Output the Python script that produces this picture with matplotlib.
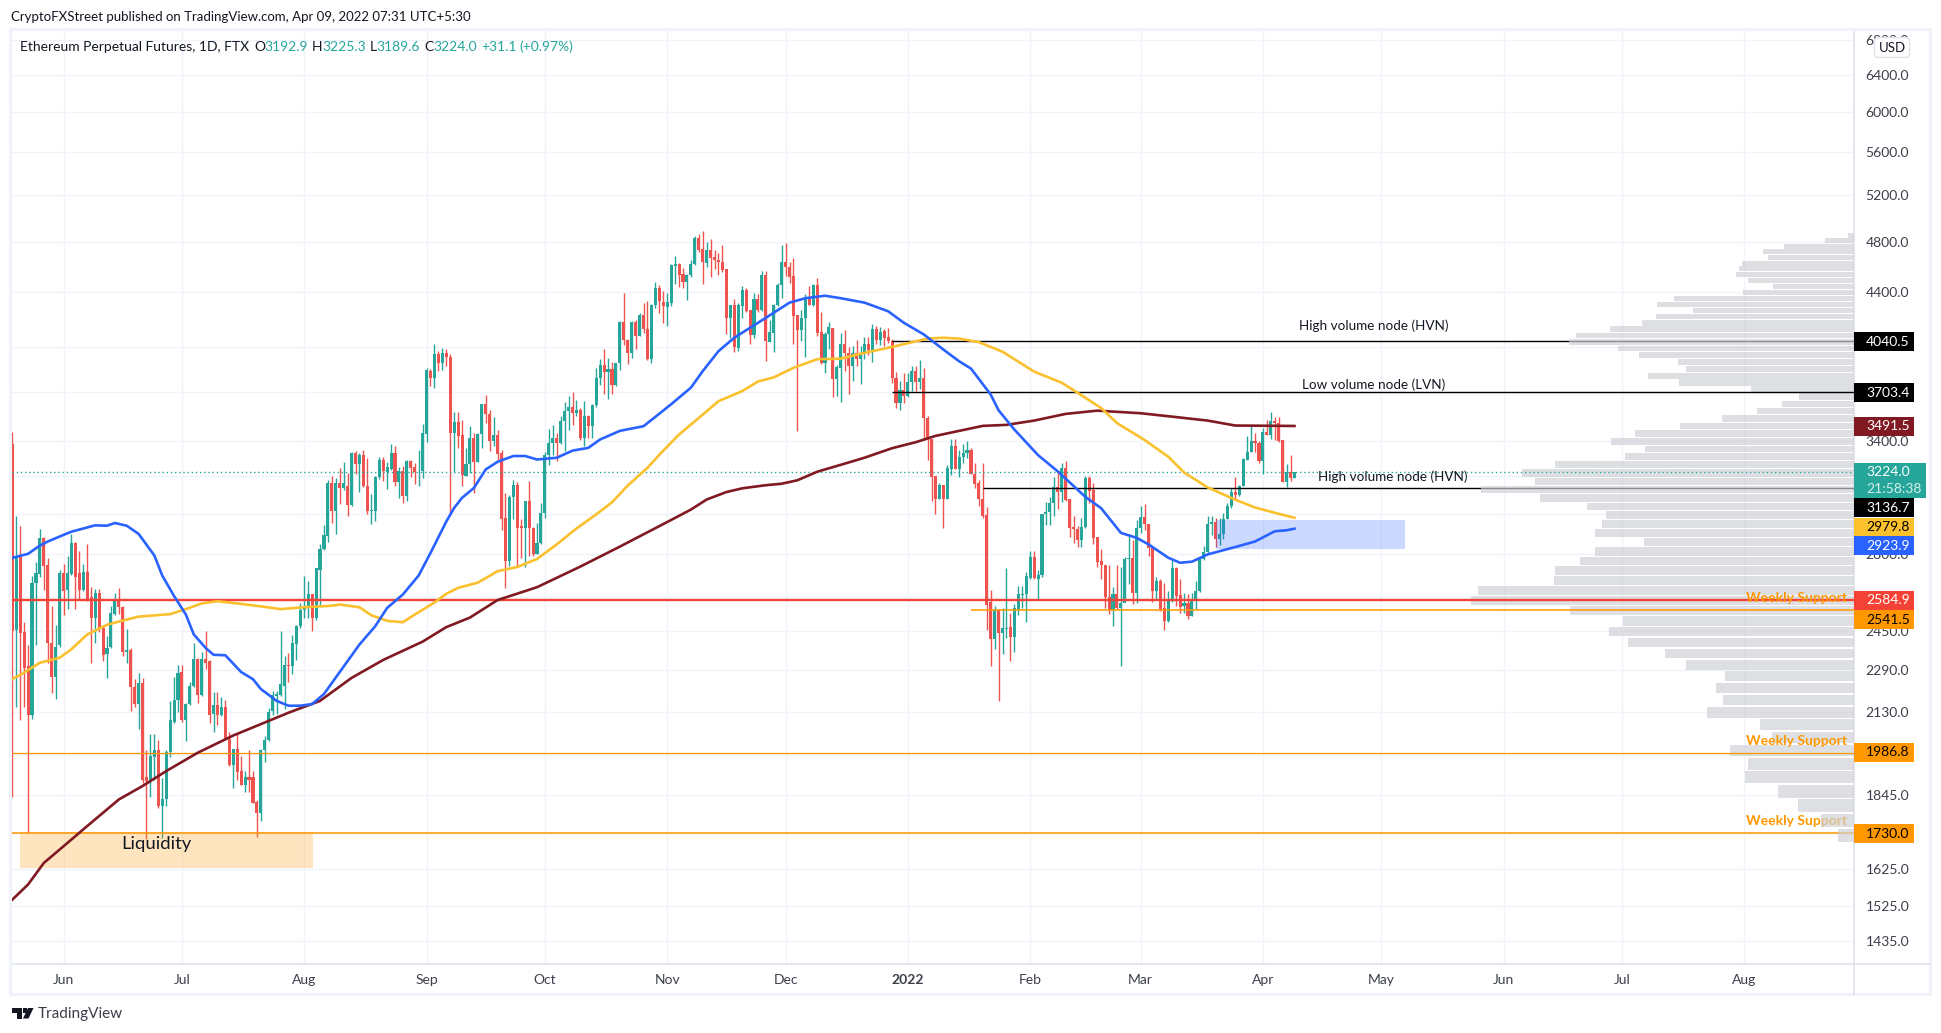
import numpy as np
import pandas as pd
import matplotlib
matplotlib.use("agg")
import matplotlib.pyplot as plt
import matplotlib.dates as mdates
from matplotlib.patches import Rectangle, Polygon

plt.rcParams['font.family'] = ['Lato', 'DejaVu Sans']

# daily candles, first one is 2021-05-19
first_day = "2021-05-19"
opens = [3386,2455,2790,2445,2305,2120,2660,2705,2875,2745,
         2400,2265,2390,2710,2630,2705,2855,2710,2630,2715,
         2600,2505,2615,2465,2355,2385,2525,2590,2555,2365,
         2372,2225,2160,2240,1905,1890,1970,1995,1810,1835,
         1990,2095,2175,2285,2100,2160,2230,2335,2195,2335,
         2325,2125,2155,2120,2150,2035,1945,2000,1925,1880,
         1905,1905,1825,1790,1995,2030,2135,2190,2195,2230,
         2312,2305,2395,2470,2540,2555,2610,2505,2725,2825,
         2885,3165,3015,3165,3138,3145,3045,3330,3268,3320,
         3150,3015,3015,3197,3290,3226,3243,3333,3170,3233,
         3092,3285,3255,3228,3230,3445,3840,3790,3950,3890,
         3957,3935,3452,3515,3435,3205,3272,3422,3283,3442,
         3624,3565,3400,3440,3330,2978,2765,3090,3155,2936,
         2930,3065,2930,2800,2855,3005,3318,3390,3422,3390,
         3520,3580,3608,3570,3590,3422,3552,3494,3618,3795,
         3880,3830,3855,3750,3890,4175,4050,3960,4175,4075,
         4230,4130,3920,4300,4430,4328,4291,4320,4603,4615,
         4540,4478,4528,4615,4826,4742,4628,4727,4677,4650,
         4636,4575,4210,4300,3995,4296,4418,4268,4088,4350,
         4266,4535,4038,4098,4300,4452,4635,4598,4520,4228,
         4124,4205,4363,4306,4450,4105,3895,4090,4135,3785,
         3860,4025,3960,3875,3960,3922,3950,4025,3978,4125,
         4047,4110,4070,4042,3795,3630,3715,3675,3768,3838,
         3765,3790,3542,3416,3200,3078,3155,3078,3240,3372,
         3240,3312,3334,3352,3215,3163,3080,2995,2575,2415,
         2542,2444,2460,2466,2425,2545,2606,2610,2686,2785,
         2680,2697,2997,3008,3056,3140,3115,3245,3080,2935,
         2922,2866,2932,3190,3125,2880,2765,2748,2600,2540,
         2612,2550,2570,2773,2781,2615,2925,2982,2950,2835,
         2625,2672,2550,2495,2580,2730,2607,2557,2570,2516,
         2590,2625,2773,2810,2950,2960,2870,2895,2975,3042,
         3115,3100,3145,3295,3340,3400,3390,3285,3457,3440,
         3520,3510,3405,3168,3226,3192.9]
highs = [3455,2990,2940,2490,2394,2695,2760,2922,2880,2780,
         2560,2475,2725,2750,2790,2895,2860,2815,2750,2850,
         2645,2635,2635,2470,2430,2560,2615,2640,2560,2460,
         2380,2255,2280,2260,1995,2050,2050,2030,1900,1995,
         2170,2265,2310,2310,2165,2245,2400,2340,2365,2450,
         2330,2205,2205,2185,2175,2060,2000,2055,1975,1925,
         1995,1925,1830,2000,2045,2145,2210,2210,2450,2345,
         2360,2435,2475,2570,2695,2670,2612,2732,2850,2945,
         3180,3200,3193,3245,3282,3220,3338,3345,3330,3350,
         3305,3105,3203,3312,3312,3282,3387,3370,3254,3258,
         3290,3290,3276,3350,3505,3859,3850,4022,3975,3995,
         3985,3955,3575,3575,3530,3360,3490,3450,3450,3624,
         3685,3590,3547,3465,3350,3110,3100,3180,3170,2975,
         3065,3175,2935,2955,3058,3338,3475,3500,3448,3552,
         3642,3680,3700,3650,3600,3645,3560,3625,3860,3920,
         3990,3927,3900,3895,4182,4390,4055,4182,4195,4243,
         4320,4335,4310,4480,4455,4406,4394,4615,4683,4628,
         4587,4540,4654,4845,4860,4885,4800,4818,4735,4708,
         4775,4575,4306,4350,4318,4445,4430,4268,4394,4386,
         4560,4560,4190,4311,4470,4770,4790,4635,4667,4228,
         4262,4386,4445,4462,4505,4252,4103,4180,4135,3882,
         4100,4123,4000,4008,4050,4008,4068,4070,4160,4148,
         4140,4125,4135,4054,3834,3775,3827,3827,3872,3872,
         3910,3857,3552,3416,3200,3165,3155,3266,3416,3416,
         3352,3382,3401,3362,3275,3182,3275,3034,2630,2557,
         2545,2550,2730,2530,2566,2650,2650,2715,2812,2812,
         2725,3000,3060,3090,3195,3235,3275,3288,3080,2990,
         2936,2980,3205,3205,3165,2880,2825,2748,2745,2645,
         2745,2735,2785,2895,2865,2968,3040,3053,2950,2835,
         2688,2680,2664,2625,2777,2738,2682,2615,2612,2618,
         2672,2781,2838,2990,2990,2978,2978,3003,3058,3137,
         3197,3155,3305,3430,3490,3448,3400,3480,3530,3578,
         3548,3548,3405,3270,3318,3225.3]
lows = [1840,2150,2100,2150,1730,2105,2394,2690,2630,2320,
        2200,2180,2385,2520,2545,2700,2545,2590,2625,2580,
        2320,2400,2445,2325,2260,2380,2520,2525,2345,2320,
        2135,2150,2070,1885,1710,1840,1895,1805,1715,1810,
        1970,2090,2130,2095,2025,2155,2225,2165,2190,2295,
        2090,2060,2085,2115,2030,1940,1870,1895,1880,1855,
        1855,1820,1718,1765,1955,2025,2120,2125,2190,2140,
        2245,2275,2330,2465,2505,2505,2450,2498,2560,2820,
        2860,2955,2895,3050,3125,2990,3040,3211,3115,3140,
        3000,2950,2965,3185,3175,3130,3238,3145,3082,3056,
        3067,3196,3157,3147,3193,3395,3740,3725,3840,3845,
        3875,3000,3226,3360,3146,3205,3220,3110,3280,3360,
        3510,3345,3375,3285,2915,2640,2740,2975,2735,2780,
        2735,2788,2790,2797,2850,2980,3265,3318,3285,3385,
        3345,3465,3500,3555,3405,3375,3422,3422,3610,3750,
        3690,3660,3690,3742,3845,4015,3885,3925,3985,4075,
        4100,3915,3895,4281,4245,4170,4148,4293,4463,4438,
        4427,4336,4515,4610,4715,4463,4595,4515,4582,4530,
        4555,4095,4065,3967,3976,4208,4250,4020,4065,4250,
        4261,3905,4038,3965,4293,4355,4520,4470,4020,3460,
        4042,3930,4300,4293,4075,3885,3827,3990,3670,3675,
        3640,3838,3692,3772,3870,3755,3922,3945,3897,4022,
        4013,4007,4030,3762,3603,3587,3630,3672,3708,3708,
        3720,3410,3295,3066,3000,3078,2930,3078,3207,3240,
        3196,3278,3305,3211,3135,3040,2980,2455,2308,2375,
        2170,2355,2420,2325,2365,2520,2550,2490,2682,2682,
        2585,2692,2945,2945,2990,3025,3060,3065,2880,2855,
        2835,2832,2930,3058,2850,2735,2680,2550,2525,2470,
        2545,2308,2583,2656,2566,2572,2900,2915,2790,2578,
        2588,2535,2455,2490,2576,2560,2530,2530,2500,2513,
        2545,2620,2772,2798,2890,2835,2845,2870,2975,3030,
        3080,3095,3145,3290,3340,3340,3275,3215,3436,3415,
        3405,3395,3168,3143,3175,3189.6]
closes = [2449,2790,2440,2300,2120,2660,2708,2875,2740,2400,
          2265,2385,2710,2625,2710,2855,2690,2630,2715,2590,
          2505,2615,2465,2350,2380,2530,2590,2555,2365,2372,
          2225,2160,2240,1895,1890,1975,1995,1810,1835,1990,
          2100,2175,2280,2100,2160,2230,2335,2195,2335,2320,
          2120,2155,2120,2150,2035,1945,2000,1920,1880,1905,
          1895,1820,1790,1995,2030,2130,2195,2197,2235,2310,
          2305,2400,2470,2540,2555,2610,2505,2730,2825,2890,
          3165,3015,3165,3138,3165,3045,3330,3268,3320,3145,
          3015,3018,3197,3290,3230,3252,3333,3170,3233,3092,
          3285,3248,3226,3233,3448,3845,3790,3950,3890,3957,
          3935,3452,3515,3430,3207,3272,3422,3283,3442,3624,
          3565,3400,3440,3325,2975,2765,3090,3155,2930,2930,
          3065,2930,2800,2855,3005,3318,3390,3422,3390,3520,
          3580,3608,3570,3590,3422,3552,3494,3618,3795,3880,
          3830,3855,3750,3890,4175,4050,3960,4175,4075,4230,
          4130,3920,4300,4430,4335,4293,4326,4610,4615,4535,
          4478,4535,4620,4826,4735,4633,4727,4667,4646,4630,
          4567,4208,4300,4000,4306,4418,4260,4088,4350,4266,
          4530,4042,4103,4306,4457,4635,4593,4515,4220,4124,
          4208,4363,4306,4450,4100,3893,4095,4140,3785,3865,
          4025,3960,3875,3960,3922,3960,4025,3978,4125,4047,
          4103,4066,4042,3790,3630,3715,3675,3768,3838,3770,
          3790,3538,3410,3196,3078,3155,3078,3245,3372,3240,
          3312,3334,3352,3211,3160,3080,2990,2565,2415,2542,
          2444,2462,2463,2425,2550,2612,2612,2695,2785,2685,
          2700,2997,3010,3056,3140,3115,3245,3074,2930,2920,
          2866,2935,3190,3122,2875,2760,2745,2598,2540,2612,
          2550,2570,2773,2781,2615,2925,2982,2950,2826,2625,
          2672,2546,2495,2580,2730,2603,2555,2570,2516,2590,
          2625,2773,2810,2950,2960,2870,2895,2975,3042,3115,
          3100,3150,3300,3340,3400,3390,3285,3457,3440,3520,
          3510,3400,3168,3226,3192.9,3224.0]

# moving averages, read at some days (day number counted from first_day)
ma50_days = [0,4,7,9,13,15,21,24,26,29,32,36,38,41,44,46,49,51,54,58,
             61,63,67,70,73,76,79,88,92,95,99,103,106,110,112,114,117,120,123,127,
             130,133,138,142,146,149,154,160,164,167,172,175,179,183,189,193,197,201,206,210,
             216,222,226,231,236,240,243,248,250,254,260,265,272,276,281,285,288,293,296,299,
             303,310,315,320,323,325]
ma50 = [2780,2800,2840,2860,2893,2909,2941,2939,2953,2939,2898,2792,2697,2603,2521,2436,2380,2352,2350,2283,
        2255,2217,2172,2154,2154,2160,2198,2394,2471,2550,2610,2697,2804,2960,3031,3084,3137,3239,3282,3315,
        3315,3295,3305,3346,3362,3411,3462,3490,3566,3625,3730,3838,3973,4066,4172,4245,4320,4353,4372,4353,
        4320,4256,4172,4090,3984,3904,3855,3686,3587,3470,3320,3228,3089,3029,2903,2878,2846,2781,2757,2762,
        2797,2833,2860,2911,2916,2923.9]
ma100_days = [0,3,7,12,15,19,24,28,32,40,44,48,52,57,63,68,73,81,83,88,
              91,95,99,102,107,110,113,118,123,128,133,138,143,148,152,156,161,164,169,174,
              179,185,189,193,198,204,210,215,222,227,232,236,240,245,251,259,266,270,276,280,
              287,293,297,303,310,315,321,325]
ma100 = [2255,2281,2320,2340,2375,2436,2477,2495,2512,2523,2545,2570,2580,2570,2557,2545,2552,2560,2565,2553,
         2518,2494,2488,2521,2574,2613,2640,2664,2717,2737,2775,2846,2925,2997,3060,3150,3248,3322,3440,3540,
         3644,3708,3770,3797,3860,3918,3922,3955,3996,4028,4060,4066,4060,4035,3969,3835,3762,3698,3601,3509,
         3408,3311,3222,3140,3074,3033,3000,2979.8]
ma200_days = [0,4,8,13,19,27,33,39,47,56,70,78,86,94,104,110,116,123,133,144,
              154,164,168,172,176,181,185,191,195,199,204,210,216,223,229,234,240,246,252,259,
              267,275,286,294,303,310,325]
ma200 = [1541,1582,1642,1690,1750,1832,1875,1924,1986,2046,2128,2172,2260,2331,2406,2467,2508,2585,2643,2739,
         2835,2937,2979,3022,3075,3115,3135,3152,3160,3179,3226,3265,3305,3360,3395,3432,3462,3492,3498,3524,
         3565,3585,3569,3548,3524,3494,3491.5]

# volume profile, top bin first
vp_top = 4878
vp_bottom = 1702
vp_volume = [6,29,70,91,86,112,115,118,106,81,111,180,197,161,198,212,244,278,285,236,
             215,176,168,206,175,103,55,72,97,132,174,219,243,209,229,299,332,319,373,314,
             267,248,252,259,210,259,274,299,300,376,383,284,231,245,226,189,168,129,138,131,
             147,94,82,124,106,109,76,56,33,16]

# price levels drawn on the chart
hvn_upper = 4040.5
lvn_level = 3703.4
hvn_lower = 3136.7
last_price = 3224.0
red_level = 2584.9
orange_short = 2541.5
weekly_mid = 1986.8
weekly_low = 1730.0

price_ticks = [6800,6400,6000,5600,5200,4800,4400,4000,3700,3400,3200,3000,2800,2600,2450,2290,2130,1980,1845,1730,1625,1525,1435]
# these sit fully behind a price badge in the chart, only their grid line shows
hidden_ticks = [4000,3700,3200,3000,2600,1980,1730]
month_ticks = ["2021-06-01","2021-07-01","2021-08-01","2021-09-01","2021-10-01","2021-11-01","2021-12-01","2022-01-01",
               "2022-02-01","2022-03-01","2022-04-01","2022-05-01","2022-06-01","2022-07-01","2022-08-01"]
month_labels = ["Jun","Jul","Aug","Sep","Oct","Nov","Dec","2022","Feb","Mar","Apr","May","Jun","Jul","Aug"]

W, H = 1941, 1033
TEAL = "#26a69a"
RED = "#ef5350"
ORANGE = "#ff9800"
TEXT = "#131722"
AXIS_TEXT = "#3c3f4a"


def fx(x):
    return x / W


def fy(y):
    return 1 - y / H


fig = plt.figure(figsize=(W / 100, H / 100), dpi=100, facecolor="white")
ax = fig.add_axes([fx(11.6), fy(964), fx(1854.3 - 11.6), (964 - 30) / H])

d0 = mdates.date2num(pd.Timestamp(first_day))
x = d0 + np.arange(len(opens))
opens = np.array(opens)
highs = np.array(highs)
lows = np.array(lows)
closes = np.array(closes)
colors = [TEAL if c >= o else RED for o, c in zip(opens, closes)]
xmin, xmax = d0 - 0.18, d0 + 466.9

ax.set_yscale("log")
ax.set_xlim(xmin, xmax)
ax.set_ylim(1379, 6917)

ax.vlines(x, lows, highs, colors=colors, linewidth=1, zorder=2)
ax.bar(x, closes - opens, bottom=opens, width=0.78, color=colors, linewidth=0, zorder=2.1)

ax.plot(d0 + np.array(ma200_days), ma200, color="#801922", lw=1.9, zorder=4, solid_joinstyle="round")
ax.plot(d0 + np.array(ma100_days), ma100, color="#fbc02d", lw=1.9, zorder=4.1, solid_joinstyle="round")
ax.plot(d0 + np.array(ma50_days), ma50, color="#2962ff", lw=1.9, zorder=4.2, solid_joinstyle="round")

# boxes
ax.add_patch(Rectangle((d0 + 305, 2825), 48, 2969 - 2825, color="#2962ff", alpha=0.24, lw=0, zorder=3))
ax.add_patch(Rectangle((d0 + 2, 1628), 74.2, 1733 - 1628, color=ORANGE, alpha=0.25, lw=0, zorder=3))

# levels, some of them go under the profile bars
ax.hlines(hvn_upper, d0 + 223, xmax, color="black", lw=1.0, zorder=3.2)
ax.hlines(hvn_lower, d0 + 246, xmax, color="black", lw=1.0, zorder=3.2)
ax.hlines(weekly_low, xmin, xmax, color=ORANGE, lw=1.1, zorder=3.2)
ax.hlines(lvn_level, d0 + 223, xmax, color="black", lw=1.0, zorder=3.4)
ax.hlines(red_level, xmin, xmax, color="#f44336", lw=1.7, zorder=3.4)
ax.hlines(orange_short, d0 + 243, xmax, color=ORANGE, lw=1.1, zorder=3.4)
ax.hlines(weekly_mid, xmin, xmax, color=ORANGE, lw=0.9, zorder=3.4)
ax.hlines(last_price, xmin, xmax, color=TEAL, lw=1, linestyles=(0, (1, 2)), zorder=3.4)

# volume profile, grows to the left from the price axis
vp_step = (vp_top - vp_bottom) / len(vp_volume)
vp_bottoms = vp_top - vp_step * (np.arange(len(vp_volume)) + 1)
ax.barh(vp_bottoms, -np.array(vp_volume) / 3.945, height=vp_step * 0.88, left=xmax, align="edge",
        color="#ced0d6", alpha=0.67, linewidth=0, zorder=3.3)

# chart notes
ax.text(d0 + 345, 4153, "High volume node (HVN)", ha="center", va="center", fontsize=9.7, color=TEXT, zorder=5)
ax.text(d0 + 345, 3746, "Low volume node (LVN)", ha="center", va="center", fontsize=9.7, color=TEXT, zorder=5)
ax.text(d0 + 350, 3201, "High volume node (HVN)", ha="center", va="center", fontsize=9.7, color=TEXT, zorder=5)
ax.text(d0 + 36.5, 1697, "Liquidity", ha="center", va="center", fontsize=13.3, color=TEXT, zorder=5)
ax.text(d0 + 465, 2594, "Weekly Support", ha="right", va="center", fontsize=10, color=ORANGE, fontweight="bold", zorder=5)
ax.text(d0 + 465, 2027, "Weekly Support", ha="right", va="center", fontsize=10, color=ORANGE, fontweight="bold", zorder=5)
ax.text(d0 + 465, 1766, "Weekly Support", ha="right", va="center", fontsize=10, color=ORANGE, fontweight="bold", zorder=3.25)

# axes
ax.yaxis.tick_right()
ax.set_yticks(price_ticks)
ax.set_yticklabels(["" if p in hidden_ticks else f"{p:.1f}" for p in price_ticks])
ax.minorticks_off()
ax.set_xticks(mdates.date2num(pd.to_datetime(month_ticks)))
ax.set_xticklabels(month_labels)
ax.tick_params(axis="y", length=0, pad=8, labelsize=10, labelcolor=AXIS_TEXT)
ax.tick_params(axis="x", length=0, pad=7, labelsize=10, labelcolor=AXIS_TEXT)
ax.get_xticklabels()[7].set_fontweight("bold")
ax.grid(True, color="#f0f3fa", lw=1)
ax.set_axisbelow(True)
for name in ["top", "left"]:
    ax.spines[name].set_visible(False)
for name in ["right", "bottom"]:
    ax.spines[name].set_color("#e0e3eb")
    ax.spines[name].set_linewidth(1.2)

# outer frame and the lines of the axis strips
fig.add_artist(Rectangle((fx(10), fy(994)), fx(1930 - 10), 965 / H, fill=False, ec="#f0f3fa", lw=2.2, zorder=1))
fig.add_artist(plt.Line2D([fx(1854.3), fx(1854.3)], [fy(964), fy(994)], color="#e0e3eb", lw=1.2))
fig.add_artist(plt.Line2D([fx(1854.3), fx(1930)], [fy(964), fy(964)], color="#e0e3eb", lw=1.2))

# price badges on the axis
badges = [
    (341.5, "4040.5", "#000000", "white"),
    (392.5, "3703.4", "#000000", "white"),
    (426.5, "3491.5", "#801922", "white"),
    (507.5, "3136.7", "#000000", "white"),
    (527, "2979.8", "#fbc02d", "black"),
    (545.5, "2923.9", "#2962ff", "white"),
    (600.5, "2584.9", "#f44336", "white"),
    (619.5, "2541.5", ORANGE, "black"),
    (752.5, "1986.8", ORANGE, "black"),
    (833.5, "1730.0", ORANGE, "black"),
]
for yc, label, bg, fg in badges:
    fig.add_artist(Rectangle((fx(1854), fy(yc + 9.5)), (1913.5 - 1854) / W, 19 / H, color=bg, lw=0))
    fig.text(fx(1866), fy(yc), label, color=fg, fontsize=10, va="center", ha="left")

fig.add_artist(Rectangle((fx(1854), fy(498)), (1925.5 - 1854) / W, 35 / H, color=TEAL, lw=0))
fig.text(fx(1866), fy(472), "3224.0", color="white", fontsize=10, va="center", ha="left")
fig.text(fx(1866), fy(489), "21:58:38", color="#d4eeeb", fontsize=10, va="center", ha="left")

fig.text(fx(1892), fy(47.5), "USD", color=TEXT, fontsize=9.5, ha="center", va="center",
         bbox=dict(boxstyle="round,pad=0.3", fc="white", ec="#e0e3eb", lw=1))

# header
fig.text(fx(11), fy(17), "CryptoFXStreet published on TradingView.com, Apr 09, 2022 07:31 UTC+5:30",
         color=TEXT, fontsize=9.55, va="center")
fig.text(fx(20), fy(47), "Ethereum Perpetual Futures, 1D, FTX", color=TEXT, fontsize=10, va="center")
legend_parts = [(254, "O", TEXT), (264, "3192.9", TEAL), (312, "H", TEXT), (322, "3225.3", TEAL),
                (369.5, "L", TEXT), (376, "3189.6", TEAL), (424, "C", TEXT), (433, "3224.0", TEAL),
                (481, "+31.1", TEAL), (519, "(+0.97%)", TEAL)]
for px, s, c in legend_parts:
    fig.text(fx(px), fy(47), s, color=c, fontsize=10, va="center")

# footer with logo
logo = "#131722"
fig.add_artist(Polygon([(fx(11.6), fy(1008)), (fx(22), fy(1008)), (fx(22), fy(1018.5)), (fx(16.5), fy(1018.5)),
                        (fx(16.5), fy(1012.5)), (fx(11.6), fy(1012.5))], closed=True, color=logo, lw=0))
fig.add_artist(Polygon([(fx(28), fy(1008)), (fx(33.5), fy(1008)), (fx(28.5), fy(1018.5)), (fx(23), fy(1018.5))],
                       closed=True, color=logo, lw=0))
fig.add_artist(Rectangle((fx(23), fy(1012.5)), 4 / W, 4.5 / H, color=logo, lw=0))
fig.text(fx(38), fy(1014), "TradingView", color="#3c3f4a", fontsize=11, va="center")

fig.savefig("out.png", dpi=100, facecolor="white")
